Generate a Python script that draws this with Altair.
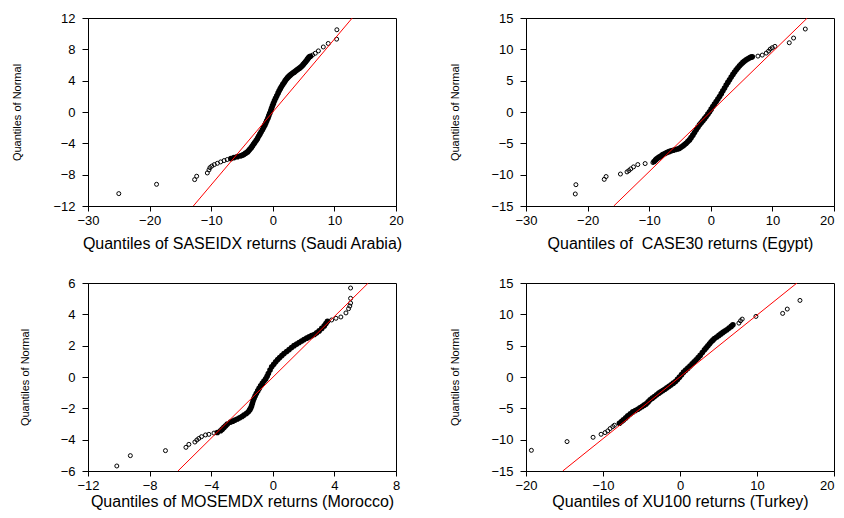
import altair as alt
import pandas as pd

FONT = "Liberation Sans, Arial, Helvetica, sans-serif"
Y_TITLE = "Quantiles of Normal"

# ---------------- Panel 1: Saudi Arabia ----------------
p1_title = "Quantiles of SASEIDX returns (Saudi Arabia)"
p1_xticks = [-30, -20, -10, 0, 10, 20]
p1_yticks = [-12, -8, -4, 0, 4, 8, 12]
p1_xdom = [-30, 20]
p1_ydom = [-12, 12]
p1_line_x = [-12.9, 12.9]
p1_line_y = [-12, 12]
p1_tail_x = [-25.0, -18.87, -12.69, -12.36, -10.63, -10.36, -10.2, -9.9, -9.5, -9.0, -8.46, -7.9, -7.4,
             6.45, 6.9, 7.4, 8.2, 9.0, 10.36, 10.4]
p1_tail_y = [-10.42, -9.23, -8.63, -8.2, -7.78, -7.39, -7.1, -6.9, -6.72, -6.55, -6.37, -6.2, -6.07,
             7.27, 7.5, 7.8, 8.3, 8.75, 9.3, 10.5]
p1_body_x = [-6.8, -6.3, -5.75, -5.2, -4.9, -4.66, -4.4, -4.1, -3.9, -3.74, -3.5, -3.3, -3.1, -2.93,
             -2.7, -2.5, -2.3, -2.1, -1.9, -1.68, -1.5, -1.3, -1.14, -0.98, -0.8, -0.65, -0.5, -0.33,
             -0.2, -0.05, 0.1, 0.27, 0.45, 0.65, 0.85, 1.03, 1.22, 1.41, 1.62, 1.84, 2.02, 2.22, 2.4,
             2.6, 2.82, 3.04, 3.25, 3.47, 3.7, 3.9, 4.12, 4.34, 4.55, 4.77, 4.96, 5.15, 5.32, 5.48,
             5.64, 5.8, 5.95, 6.1]
p1_body_y = [-5.95, -5.82, -5.7, -5.6, -5.5, -5.4, -5.25, -5.1, -4.93, -4.75, -4.55, -4.33, -4.1, -3.9,
             -3.65, -3.4, -3.1, -2.83, -2.55, -2.28, -1.98, -1.68, -1.4, -1.13, -0.8, -0.49, -0.17, 0.15,
             0.47, 0.79, 1.1, 1.43, 1.75, 2.07, 2.4, 2.7, 2.98, 3.26, 3.52, 3.77, 4.0, 4.2, 4.38,
             4.54, 4.7, 4.84, 4.97, 5.09, 5.22, 5.35, 5.48, 5.6, 5.75, 5.9, 6.07, 6.24, 6.41, 6.58,
             6.75, 6.93, 7.05, 7.12]

# ---------------- Panel 2: Egypt ----------------
p2_title = "Quantiles of\u00a0 CASE30 returns (Egypt)"
p2_xticks = [-30, -20, -10, 0, 10, 20]
p2_yticks = [-15, -10, -5, 0, 5, 10, 15]
p2_xdom = [-30, 20]
p2_ydom = [-15, 15]
p2_line_x = [-15.75, 15.67]
p2_line_y = [-15, 15]
p2_tail_x = [-22.0, -21.9, -17.3, -17.0, -14.67, -13.6, -13.3, -13.0, -12.55, -11.85, -10.66, -9.4,
             7.65, 8.35, 9.0, 9.38, 9.65, 9.98, 10.41, 12.74, 13.44, 15.34]
p2_tail_y = [-13.08, -11.6, -10.75, -10.3, -9.9, -9.56, -9.35, -9.08, -8.76, -8.39, -8.23, -8.07,
             8.92, 9.08, 9.4, 9.72, 10.04, 10.26, 10.47, 11.05, 11.8, 13.24]
p2_body_x = [-9.2, -8.95, -8.77, -8.55, -8.33, -8.05, -7.8, -7.45, -7.14, -6.8, -6.44, -6.1, -5.73,
             -5.4, -5.08, -4.8, -4.5, -4.25, -4.0, -3.73, -3.46, -3.2, -2.92, -2.65, -2.37, -2.1,
             -1.83, -1.56, -1.29, -1.02, -0.75, -0.48, -0.2, 0.06, 0.33, 0.6, 0.88, 1.15, 1.42, 1.7,
             1.96, 2.23, 2.5, 2.77, 3.04, 3.31, 3.59, 3.86, 4.13, 4.4, 4.67, 4.94, 5.21, 5.48, 5.75,
             6.02, 6.3, 6.52, 6.73]
p2_body_y = [-7.9, -7.65, -7.48, -7.32, -7.17, -6.98, -6.8, -6.62, -6.47, -6.33, -6.2, -6.1, -5.99,
             -5.9, -5.8, -5.6, -5.4, -5.2, -4.98, -4.72, -4.45, -4.1, -3.7, -3.28, -2.85, -2.45,
             -2.05, -1.72, -1.41, -1.06, -0.72, -0.35, 0.03, 0.45, 0.88, 1.28, 1.68, 2.08, 2.48, 2.93,
             3.38, 3.83, 4.29, 4.72, 5.14, 5.57, 6.0, 6.37, 6.74, 7.06, 7.38, 7.65, 7.91, 8.13, 8.34,
             8.5, 8.66, 8.75, 8.82]

# ---------------- Panel 3: Morocco ----------------
p3_title = "Quantiles of MOSEMDX returns (Morocco)"
p3_xticks = [-12, -8, -4, 0, 4, 8]
p3_yticks = [-6, -4, -2, 0, 2, 4, 6]
p3_xdom = [-12, 8]
p3_ydom = [-6, 6]
p3_line_x = [-6.16, 6.2]
p3_line_y = [-6, 6]
p3_tail_x = [-10.13, -9.25, -6.97, -5.64, -5.45, -5.06, -4.93, -4.8, -4.63, -4.37, -4.15, -3.82,
             3.82, 4.1, 4.42, 4.75, 4.92, 5.0, 5.05, 5.05, 5.05]
p3_tail_y = [-5.68, -5.02, -4.7, -4.49, -4.3, -4.15, -4.02, -3.92, -3.81, -3.7, -3.66, -3.58,
             3.64, 3.75, 3.83, 4.09, 4.36, 4.53, 4.72, 5.02, 5.68]
p3_body_x = [-3.6, -3.39, -3.28, -3.17, -3.06, -2.95, -2.74, -2.6, -2.45, -2.3, -2.15, -2.0, -1.87,
             -1.72, -1.59, -1.5, -1.44, -1.38, -1.33, -1.28, -1.22, -1.15, -1.07, -0.98, -0.89, -0.79,
             -0.68, -0.57, -0.46, -0.37, -0.29, -0.18, -0.07, 0.06, 0.19, 0.32, 0.45, 0.59, 0.73, 0.9,
             1.06, 1.22, 1.38, 1.55, 1.71, 1.87, 2.03, 2.2, 2.36, 2.52, 2.69, 2.85, 3.01, 3.18, 3.34,
             3.45, 3.55]
p3_body_y = [-3.54, -3.43, -3.33, -3.22, -3.11, -3.0, -2.88, -2.82, -2.75, -2.68, -2.6, -2.52, -2.43,
             -2.33, -2.22, -2.1, -2.0, -1.85, -1.69, -1.53, -1.37, -1.21, -1.05, -0.89, -0.73, -0.57,
             -0.41, -0.26, -0.12, 0.05, 0.22, 0.44, 0.65, 0.81, 0.97, 1.11, 1.24, 1.37, 1.5, 1.63,
             1.75, 1.88, 2.0, 2.1, 2.2, 2.3, 2.39, 2.48, 2.56, 2.64, 2.71, 2.82, 2.94, 3.1, 3.26,
             3.41, 3.56]

# ---------------- Panel 4: Turkey ----------------
p4_title = "Quantiles of XU100 returns (Turkey)"
p4_xticks = [-20, -10, 0, 10, 20]
p4_yticks = [-15, -10, -5, 0, 5, 10, 15]
p4_xdom = [-20, 20]
p4_ydom = [-15, 15]
p4_line_x = [-15.23, 15.19]
p4_line_y = [-15, 15]
p4_tail_x = [-19.3, -14.67, -11.29, -10.25, -9.73, -9.38, -9.08, -8.73, -8.52,
             7.65, 7.86, 8.08, 9.86, 13.33, 13.93, 15.58]
p4_tail_y = [-11.7, -10.31, -9.62, -9.14, -8.87, -8.6, -8.23, -7.91, -7.7,
             8.6, 8.97, 9.24, 9.67, 10.15, 10.84, 12.22]
p4_body_x = [-7.87, -7.6, -7.35, -7.05, -6.78, -6.45, -6.13, -5.8, -5.48, -5.2, -4.92, -4.66, -4.4,
             -4.14, -3.88, -3.6, -3.32, -3.03, -2.75, -2.49, -2.23, -1.97, -1.71, -1.43, -1.15, -0.87,
             -0.59, -0.33, -0.07, 0.2, 0.46, 0.74, 1.02, 1.3, 1.58, 1.84, 2.1, 2.36, 2.62, 2.9, 3.18,
             3.4, 3.62, 3.84, 4.05, 4.27, 4.48, 4.77, 5.05, 5.31, 5.57, 5.83, 6.09, 6.37, 6.65, 6.87]
p4_body_y = [-7.38, -7.1, -6.85, -6.53, -6.21, -5.88, -5.57, -5.35, -5.14, -4.92, -4.71, -4.5, -4.29,
             -3.97, -3.65, -3.38, -3.12, -2.85, -2.58, -2.37, -2.16, -1.95, -1.73, -1.49, -1.25, -0.98,
             -0.72, -0.38, -0.03, 0.37, 0.77, 1.09, 1.41, 1.75, 2.1, 2.42, 2.74, 3.09, 3.44, 3.89, 4.34,
             4.66, 4.98, 5.3, 5.62, 5.88, 6.15, 6.39, 6.63, 6.87, 7.11, 7.33, 7.54, 7.8, 8.07, 8.34]


def make_panel(tx, ty, bx, by, lx, ly, xdom, ydom, xt, yt, xtitle, tpad, right_col):
    tails = pd.DataFrame({"x": tx, "y": ty})
    body = pd.DataFrame({"x": bx, "y": by})
    line = pd.DataFrame({"x": lx, "y": ly})
    xs = alt.Scale(domain=xdom, nice=False, zero=False)
    ys = alt.Scale(domain=ydom, nice=False, zero=False)
    xkw = dict(values=xt, title=xtitle, titlePadding=tpad)
    if right_col:
        last = xt[-1]
        xkw["labelAlign"] = {"condition": {"test": f"datum.value >= {last}", "value": "right"},
                             "value": "center"}
    xax = alt.Axis(**xkw)
    yax = alt.Axis(values=yt, title=Y_TITLE)
    enc = dict(x=alt.X("x:Q", scale=xs, axis=xax), y=alt.Y("y:Q", scale=ys, axis=yax))
    bd = alt.Chart(body).mark_point(shape="circle", filled=True, color="black",
                                    size=32, opacity=1).encode(**enc)
    tl = alt.Chart(tails).mark_point(shape="circle", filled=False, color="black",
                                     size=16, strokeWidth=1, opacity=1).encode(**enc)
    ln = alt.Chart(line).mark_line(color="#ff0000", strokeWidth=1, clip=True).encode(**enc)
    return alt.layer(bd, tl, ln).properties(width=308, height=188)


c1 = make_panel(p1_tail_x, p1_tail_y, p1_body_x, p1_body_y, p1_line_x, p1_line_y,
                p1_xdom, p1_ydom, p1_xticks, p1_yticks, p1_title, 8, False)
c2 = make_panel(p2_tail_x, p2_tail_y, p2_body_x, p2_body_y, p2_line_x, p2_line_y,
                p2_xdom, p2_ydom, p2_xticks, p2_yticks, p2_title, 8, True)
c3 = make_panel(p3_tail_x, p3_tail_y, p3_body_x, p3_body_y, p3_line_x, p3_line_y,
                p3_xdom, p3_ydom, p3_xticks, p3_yticks, p3_title, 1, False)
c4 = make_panel(p4_tail_x, p4_tail_y, p4_body_x, p4_body_y, p4_line_x, p4_line_y,
                p4_xdom, p4_ydom, p4_xticks, p4_yticks, p4_title, 1, True)

chart = alt.concat(
    c1, c2, c3, c4, columns=2,
    spacing={"row": 77, "column": 130},
    bounds="flush",
).properties(
    padding={"left": 3, "top": 3, "right": 0, "bottom": 0},
    background="white",
).configure_view(
    stroke="black", strokeWidth=1
).configure_axis(
    domainColor="black", tickColor="black", labelColor="black", titleColor="black",
    labelFont=FONT, titleFont=FONT, grid=False, labelFlush=False, labelOverlap=False,
    titleFontWeight="normal", domainWidth=1, tickWidth=1, ticks=True,
).configure_axisX(
    tickSize=5, labelPadding=3, labelFontSize=13, titleFontSize=16,
).configure_axisY(
    tickSize=6, labelPadding=7, labelFontSize=13, titleFontSize=11, titlePadding=30,
)

chart.save("out.html", embed_options={"renderer": "svg", "actions": False})
